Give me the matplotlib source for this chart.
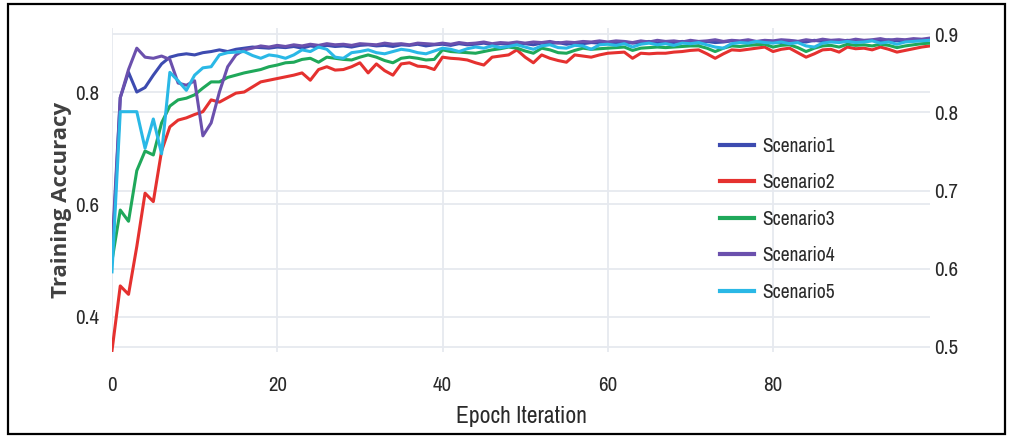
import matplotlib
matplotlib.use("Agg")
from matplotlib import pyplot as plt
from matplotlib import font_manager
from matplotlib.patches import Rectangle
import numpy as np

# try to find a narrow face, the reference text is condensed
narrow = None
for f in font_manager.fontManager.ttflist:
	if ("Narrow" in f.name or "Condensed" in f.name) and f.weight in (400, "normal", "regular"):
		narrow = f.name
		break
if narrow is None:
	for f in font_manager.fontManager.ttflist:
		if str(f.stretch) in ("condensed", "semi-condensed") and f.name == "DejaVu Sans":
			narrow = "DejaVu Sans"
			break

plt.rcParams['font.family'] = ([narrow] if narrow else []) + ['Open Sans', 'DejaVu Sans']
if narrow == "DejaVu Sans":
	plt.rcParams['font.stretch'] = "condensed"

# epoch index 0..99
epochs = list(range(100))

scenario1 = [0.50, 0.79, 0.835, 0.800, 0.808, 0.830, 0.850, 0.862, 0.866, 0.868,
             0.866, 0.870, 0.872, 0.875, 0.872, 0.876, 0.878, 0.880, 0.879, 0.878,
             0.880, 0.879, 0.881, 0.878, 0.882, 0.880, 0.883, 0.881, 0.882, 0.880,
             0.883, 0.884, 0.882, 0.883, 0.881, 0.884, 0.883, 0.885, 0.882, 0.884,
             0.885, 0.883, 0.886, 0.884, 0.885, 0.887, 0.884, 0.886, 0.885, 0.887,
             0.886, 0.884, 0.887, 0.886, 0.888, 0.885, 0.887, 0.886, 0.888, 0.887,
             0.888, 0.886, 0.889, 0.887, 0.888, 0.890, 0.887, 0.889, 0.888, 0.890,
             0.889, 0.887, 0.890, 0.888, 0.889, 0.891, 0.888, 0.890, 0.889, 0.891,
             0.890, 0.888, 0.891, 0.890, 0.889, 0.892, 0.890, 0.891, 0.890, 0.892,
             0.891, 0.890, 0.892, 0.891, 0.893, 0.891, 0.892, 0.893, 0.892, 0.894]

scenario2 = [0.340, 0.455, 0.440, 0.525, 0.620, 0.605, 0.695, 0.738, 0.750, 0.754,
             0.760, 0.765, 0.786, 0.782, 0.790, 0.798, 0.800, 0.809, 0.818, 0.821,
             0.824, 0.827, 0.830, 0.834, 0.821, 0.840, 0.845, 0.839, 0.840, 0.845,
             0.852, 0.834, 0.850, 0.838, 0.830, 0.850, 0.852, 0.846, 0.845, 0.840,
             0.862, 0.860, 0.859, 0.857, 0.852, 0.848, 0.862, 0.864, 0.866, 0.875,
             0.862, 0.852, 0.866, 0.860, 0.856, 0.853, 0.866, 0.864, 0.862, 0.866,
             0.869, 0.870, 0.871, 0.860, 0.869, 0.868, 0.869, 0.869, 0.871, 0.872,
             0.874, 0.875, 0.868, 0.860, 0.868, 0.875, 0.874, 0.876, 0.878, 0.880,
             0.872, 0.876, 0.878, 0.870, 0.862, 0.868, 0.875, 0.876, 0.871, 0.880,
             0.877, 0.878, 0.875, 0.880, 0.876, 0.871, 0.874, 0.877, 0.880, 0.882]

scenario3 = [0.500, 0.590, 0.570, 0.660, 0.695, 0.688, 0.745, 0.775, 0.786, 0.789,
             0.795, 0.807, 0.818, 0.818, 0.826, 0.830, 0.834, 0.837, 0.840, 0.845,
             0.848, 0.852, 0.853, 0.858, 0.860, 0.853, 0.862, 0.860, 0.858, 0.857,
             0.862, 0.866, 0.862, 0.856, 0.852, 0.860, 0.862, 0.860, 0.857, 0.858,
             0.875, 0.872, 0.871, 0.870, 0.869, 0.872, 0.875, 0.877, 0.880, 0.878,
             0.873, 0.869, 0.878, 0.875, 0.870, 0.869, 0.874, 0.878, 0.876, 0.877,
             0.878, 0.879, 0.880, 0.874, 0.878, 0.879, 0.880, 0.879, 0.880, 0.881,
             0.882, 0.882, 0.878, 0.872, 0.878, 0.882, 0.881, 0.883, 0.884, 0.885,
             0.880, 0.883, 0.884, 0.879, 0.872, 0.878, 0.882, 0.883, 0.880, 0.885,
             0.883, 0.884, 0.882, 0.885, 0.883, 0.879, 0.882, 0.884, 0.886, 0.887]

scenario4 = [0.52, 0.79, 0.840, 0.878, 0.862, 0.860, 0.864, 0.858, 0.816, 0.812,
             0.820, 0.722, 0.745, 0.800, 0.845, 0.866, 0.875, 0.878, 0.882, 0.880,
             0.883, 0.881, 0.884, 0.882, 0.885, 0.883, 0.886, 0.884, 0.885, 0.883,
             0.886, 0.885, 0.884, 0.887, 0.885, 0.886, 0.884, 0.887, 0.886, 0.885,
             0.887, 0.885, 0.888, 0.886, 0.887, 0.889, 0.886, 0.888, 0.887, 0.889,
             0.887, 0.889, 0.888, 0.890, 0.887, 0.889, 0.888, 0.890, 0.889, 0.891,
             0.889, 0.891, 0.890, 0.888, 0.891, 0.889, 0.892, 0.890, 0.891, 0.889,
             0.892, 0.890, 0.891, 0.893, 0.890, 0.892, 0.891, 0.893, 0.890, 0.892,
             0.891, 0.893, 0.892, 0.890, 0.893, 0.891, 0.894, 0.892, 0.893, 0.891,
             0.894, 0.892, 0.893, 0.895, 0.892, 0.894, 0.893, 0.895, 0.894, 0.896]

scenario5 = [0.48, 0.765, 0.765, 0.765, 0.700, 0.752, 0.690, 0.835, 0.820, 0.803,
             0.830, 0.843, 0.845, 0.866, 0.870, 0.871, 0.872, 0.865, 0.860, 0.866,
             0.864, 0.860, 0.866, 0.875, 0.872, 0.880, 0.876, 0.862, 0.860, 0.870,
             0.872, 0.875, 0.870, 0.868, 0.872, 0.876, 0.874, 0.870, 0.868, 0.873,
             0.878, 0.876, 0.872, 0.877, 0.880, 0.878, 0.882, 0.879, 0.881, 0.884,
             0.880, 0.876, 0.882, 0.884, 0.879, 0.878, 0.883, 0.882, 0.876, 0.884,
             0.885, 0.883, 0.886, 0.880, 0.885, 0.887, 0.884, 0.886, 0.883, 0.887,
             0.886, 0.888, 0.884, 0.880, 0.878, 0.886, 0.888, 0.887, 0.890, 0.888,
             0.887, 0.889, 0.886, 0.888, 0.882, 0.880, 0.887, 0.889, 0.888, 0.890,
             0.888, 0.889, 0.891, 0.887, 0.889, 0.885, 0.889, 0.890, 0.891, 0.892]

names = ["Scenario1", "Scenario2", "Scenario3", "Scenario4", "Scenario5"]
colors = ["#3d4bb0", "#e5312f", "#1fa85a", "#6b50ad", "#2ab8e6"]

left_ticks = [0.4, 0.6, 0.8]
right_ticks = [0.5, 0.6, 0.7, 0.8, 0.9]
x_ticks = [0, 20, 40, 60, 80]

# sizes: narrow face can be set bigger
tick_fs = 15 if narrow else 13
leg_fs = 14 if narrow else 12
xlab_fs = 17 if narrow else 14.5

W, H = 1013, 441
fig = plt.figure(figsize=(W / 100, H / 100), dpi=100)
ax = fig.add_axes([112 / W, (H - 352) / H, (930 - 112) / W, (352 - 28) / H])
ax2 = ax.twinx()

grid_c = "#e6e9ef"
for a in (ax, ax2):
	for s in a.spines.values():
		s.set_visible(False)
	a.tick_params(length=0, colors="#2a2a2a", labelsize=tick_fs)

series = [scenario1, scenario2, scenario3, scenario4, scenario5]
for ys, name, c in zip(series, names, colors):
	ax.plot(epochs, ys, color=c, lw=2.2, label=name, zorder=3)

ax.set_xlim(0, 99)
ax.set_ylim(0.3374, 0.9139)
ax2.set_ylim(0.4936, 0.9077)
ax.set_xticks(x_ticks)
ax.set_yticks(left_ticks)
ax2.set_yticks(right_ticks)
ax.set_yticklabels(["%.1f" % v for v in left_ticks])
ax2.set_yticklabels(["%.1f" % v for v in right_ticks])
ax.tick_params(axis="x", pad=17)
ax.tick_params(axis="y", pad=9)
ax2.tick_params(axis="y", pad=3)

ax.grid(True, color=grid_c, lw=1.3, zorder=0)
ax2.grid(True, axis="y", color=grid_c, lw=1.3, zorder=0)
ax.set_zorder(ax2.get_zorder() + 1)
ax.patch.set_visible(False)

ax.set_xlabel("Epoch Iteration", fontsize=xlab_fs, color="#2a2a2a")
ax.xaxis.set_label_coords(0.5, -0.168)
ax.set_ylabel("Training Accuracy", fontsize=16, color="#404040",
			  family=["Open Sans", "DejaVu Sans"], fontweight="bold",
			  fontstretch="normal")
ax.yaxis.set_label_coords(-0.049, 0.47)

leg = ax.legend(loc="upper left", bbox_to_anchor=(712 / W, (H - 129) / H),
				bbox_transform=fig.transFigure, frameon=False, fontsize=leg_fs,
				handlelength=1.75 * 14 / leg_fs, handletextpad=0.45,
				labelspacing=0.9 * 14 / leg_fs, borderaxespad=0)
for t in leg.get_texts():
	t.set_color("#2a2a2a")
for l in leg.get_lines():
	l.set_linewidth(3)

# black frame around the whole picture
fig.patches.append(Rectangle((8 / W, (H - 434) / H), 997 / W, 430 / H,
							 transform=fig.transFigure, fill=False,
							 edgecolor="black", lw=1.6))

fig.savefig("out.png", dpi=100)
